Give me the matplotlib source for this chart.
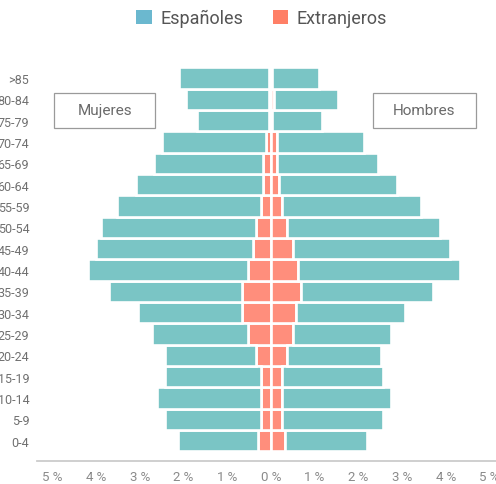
import numpy as np
import matplotlib
matplotlib.use('Agg')
from matplotlib import pyplot as plt
from matplotlib.patches import Patch, Rectangle

plt.rcParams['font.family'] = ['Roboto', 'DejaVu Sans']

# age groups, bottom to top
grupos = ['0-4', '5-9', '10-14', '15-19', '20-24', '25-29', '30-34', '35-39',
          '40-44', '45-49', '50-54', '55-59', '60-64', '65-69', '70-74',
          '75-79', '80-84', '>85']

# % of population, women
muj_esp = [1.83, 2.19, 2.38, 2.19, 2.07, 2.20, 2.37, 3.04, 3.66, 3.60,
           3.54, 3.29, 2.92, 2.50, 2.37, 1.64, 1.88, 2.06]
muj_ext = [0.29, 0.23, 0.23, 0.23, 0.35, 0.53, 0.66, 0.66, 0.53, 0.41,
           0.35, 0.23, 0.17, 0.17, 0.11, 0.05, 0.05, 0.05]
# % of population, men
hom_esp = [1.88, 2.31, 2.49, 2.31, 2.13, 2.25, 2.49, 3.03, 3.71, 3.60,
           3.48, 3.17, 2.69, 2.31, 2.01, 1.15, 1.46, 1.09]
hom_ext = [0.32, 0.26, 0.26, 0.26, 0.38, 0.50, 0.57, 0.69, 0.62, 0.50,
           0.38, 0.26, 0.19, 0.14, 0.13, 0.02, 0.07, 0.02]

ticks = [-5, -4, -3, -2, -1, 0, 1, 2, 3, 4, 5]

c_esp = '#7ac5c5'
c_ext = '#ff8e7c'

fig = plt.figure(figsize=(4.96, 4.85), dpi=100)
ax = fig.add_axes([0.0746, 0.048, 0.943, 0.828])

y = np.arange(len(grupos))
me = np.array(muj_esp)
mx = np.array(muj_ext)
he = np.array(hom_esp)
hx = np.array(hom_ext)

kw = dict(height=1.0, edgecolor='white', linewidth=1.9)
ax.barh(y, -mx, color=c_ext, **kw)
ax.barh(y, -me, left=-mx, color=c_esp, **kw)
ax.barh(y, hx, color=c_ext, **kw)
ax.barh(y, he, left=hx, color=c_esp, **kw)

ax.set_xlim(-5.35, 5.35)
ax.set_ylim(-0.94, 17.88)
ax.set_xticks(ticks)
ax.set_xticklabels([f'{abs(t)} %' for t in ticks])
ax.set_yticks(y)
ax.set_yticklabels(grupos)
ax.tick_params(axis='x', length=0, pad=7, labelsize=9.5, labelcolor='#8a8a8a')
ax.tick_params(axis='y', length=0, pad=5.5, labelsize=9, labelcolor='#707070')
for s in ['top', 'right', 'left']:
    ax.spines[s].set_visible(False)
ax.spines['bottom'].set_color('#cccccc')
ax.spines['bottom'].set_linewidth(1.3)

# legend
handles = [Patch(facecolor='#6bb8cf', label='Españoles'),
           Patch(facecolor='#ff7f66', label='Extranjeros')]
fig.legend(handles=handles, loc='center', bbox_to_anchor=(0.528, 0.961), ncol=2,
           frameon=False, fontsize=13, handlelength=0.85, handleheight=0.85,
           handletextpad=0.5, columnspacing=1.6, labelcolor='#555555')

# side boxes
W, H = 496, 485
for x0, x1, txt in [(54.3, 155, 'Mujeres'), (373.3, 475.7, 'Hombres')]:
    fig.patches.append(Rectangle((x0 / W, 1 - 129 / H), (x1 - x0) / W, 35 / H,
                                 transform=fig.transFigure, fill=False,
                                 edgecolor='#9a9a9a', linewidth=0.9))
    fig.text((x0 + x1) / 2 / W, 1 - 111.5 / H, txt, ha='center', va='center',
             fontsize=11, color='#6a6a6a')

plt.savefig('out.png', dpi=100)
